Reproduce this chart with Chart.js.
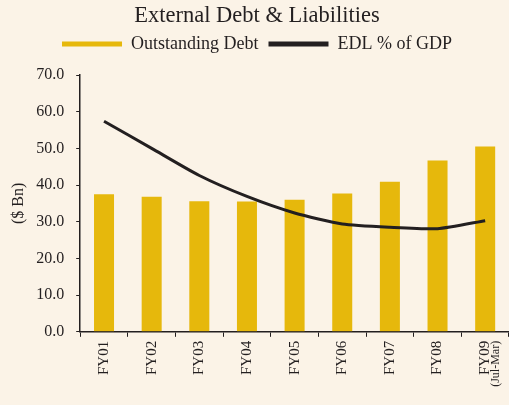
<!DOCTYPE html>
<html><head><meta charset="utf-8">
<script src="https://cdn.jsdelivr.net/npm/chart.js@4/dist/chart.umd.min.js"></script>
<style>
html,body{margin:0;padding:0;background:#FBF3E7;overflow:hidden;}
#wrap{width:509px;height:405px;position:relative;}
</style></head><body>
<div id="wrap"><canvas id="c" width="509" height="405"></canvas></div>
<script>
const categories = ['FY01','FY02','FY03','FY04','FY05','FY06','FY07','FY08','FY09'];
const subLabels = ['','','','','','','','','(Jul-Mar)'];
const outstandingDebt = [37.5, 36.8, 35.6, 35.5, 36.0, 37.7, 40.9, 46.7, 50.5];
const edlPctGdp = [57.4, 50.0, 42.6, 36.9, 32.4, 29.4, 28.5, 28.1, 30.3];
const yTicks = [0, 10, 20, 30, 40, 50, 60, 70];

const ink = '#231F20';
const gold = '#E6B80C';
const serif = "'Liberation Serif', 'Times New Roman', serif";

const subLabelPlugin = {
  id: 'subLabels',
  beforeLayout(chart) {
    const lg = chart.legend;
    if (lg && !lg._padPatched) {
      const f = lg.fit.bind(lg);
      lg.fit = function () { f(); this.height += 12; };
      lg._padPatched = true;
    }
  },
  afterDraw(chart) {
    const xs = chart.scales.x;
    const ctx = chart.ctx;
    ctx.save();
    ctx.fillStyle = ink;
    ctx.font = "12px " + serif;
    ctx.textAlign = 'right';
    ctx.textBaseline = 'middle';
    subLabels.forEach((s, i) => {
      if (!s) return;
      const x = xs.getPixelForValue(i) + 11;
      const y = xs.top + 9;
      ctx.save();
      ctx.translate(x, y);
      ctx.rotate(-Math.PI / 2);
      ctx.fillText(s, 0, 0);
      ctx.restore();
    });
    ctx.restore();
  }
};

new Chart(document.getElementById('c'), {
  data: {
    labels: categories,
    datasets: [
      { type: 'line', label: 'EDL % of GDP', data: edlPctGdp, borderColor: ink, backgroundColor: ink,
        borderWidth: 3, pointRadius: 0, tension: 0.2, order: 0 },
      { type: 'bar', label: 'Outstanding Debt', data: outstandingDebt, backgroundColor: gold,
        borderWidth: 0, barPercentage: 0.84, categoryPercentage: 0.5, order: 1 }
    ]
  },
  plugins: [subLabelPlugin],
  options: {
    responsive: false,
    animation: false,
    layout: { padding: { left: 5, right: 0, top: 3, bottom: 26 } },
    plugins: {
      title: { display: true, text: 'External Debt & Liabilities', color: ink,
        font: { family: serif, size: 22.5, weight: 'normal' }, padding: { top: 0, bottom: -5 } },
      legend: {
        display: true,
        reverse: true,
        labels: {
          color: ink, font: { family: serif, size: 18 }, boxWidth: 60, boxHeight: 5, padding: 10,
          generateLabels(chart) {
            const items = Chart.defaults.plugins.legend.labels.generateLabels(chart);
            items.forEach(it => { it.lineWidth = 0; it.strokeStyle = 'rgba(0,0,0,0)'; });
            return items;
          }
        }
      },
      tooltip: { enabled: false }
    },
    scales: {
      x: {
        offset: true,
        grid: { display: true, drawOnChartArea: false, color: ink, tickLength: 5, offset: true },
        border: { display: true, color: ink, width: 1.5 },
        ticks: { color: ink, font: { family: serif, size: 15 }, maxRotation: 90, minRotation: 90, padding: 4 }
      },
      y: {
        min: 0, max: 70,
        afterBuildTicks(axis) { axis.ticks = yTicks.map(v => ({ value: v })); },
        grid: { display: true, drawOnChartArea: false, color: ink, tickLength: 4 },
        border: { display: true, color: ink, width: 1.5 },
        title: { display: true, text: '($ Bn)', color: ink, font: { family: serif, size: 16 }, padding: { top: 4, bottom: -4 } },
        ticks: { color: ink, font: { family: serif, size: 16 }, padding: 12,
          callback: v => Number(v).toFixed(1) }
      }
    }
  }
});
</script>
</body></html>
